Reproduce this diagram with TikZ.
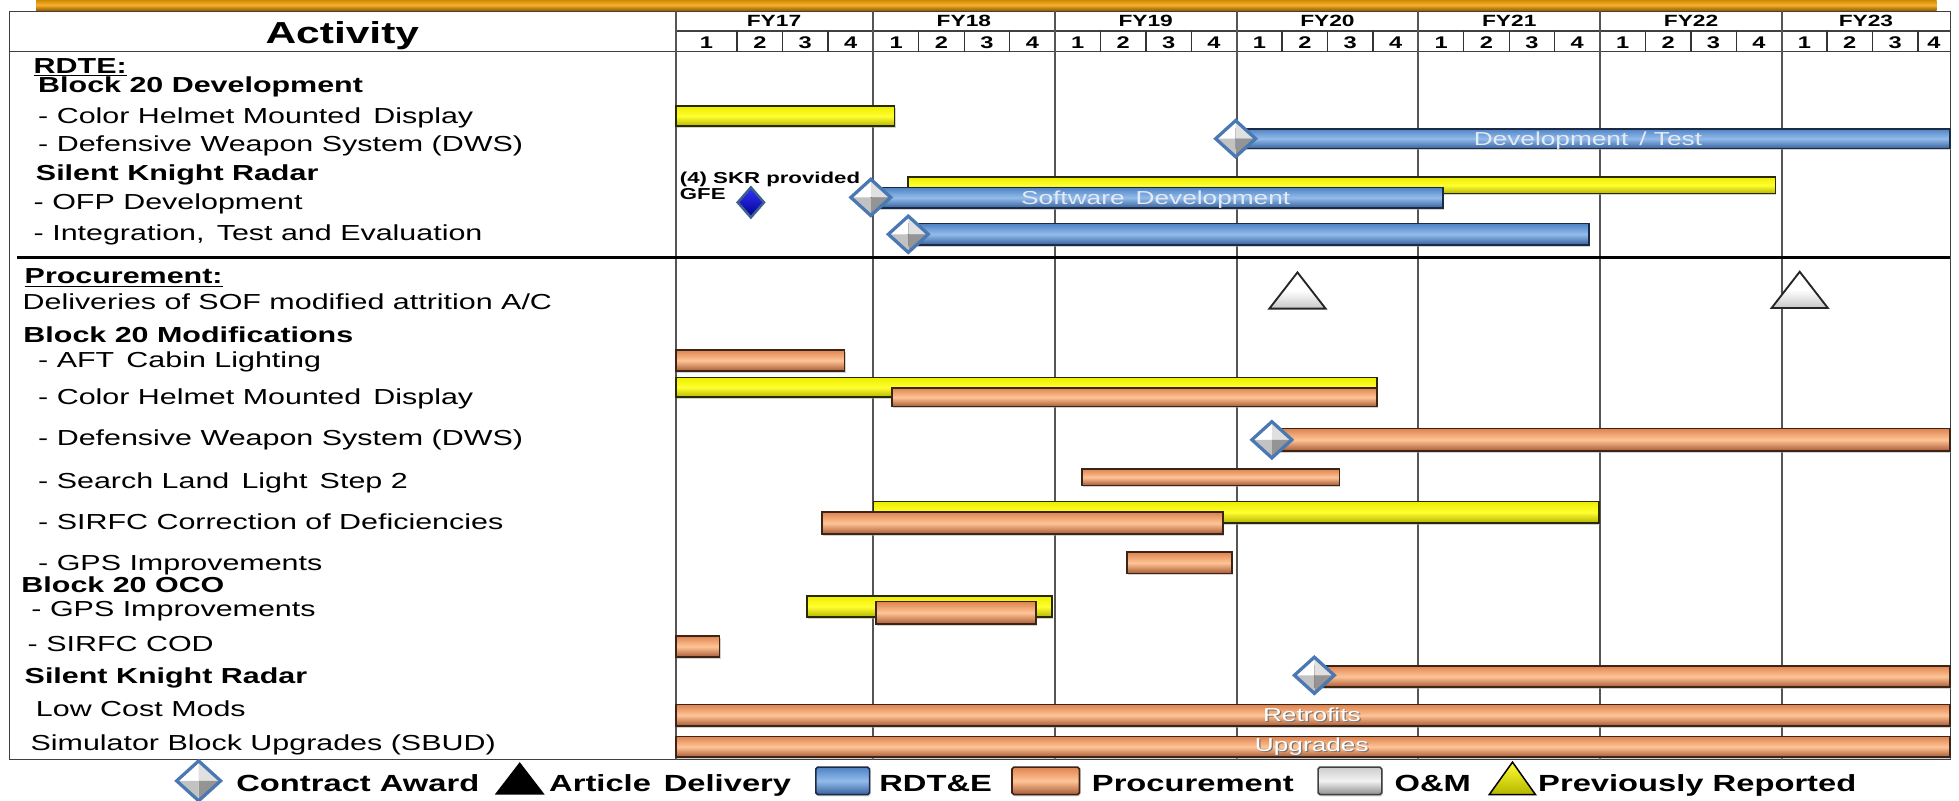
\documentclass[tikz,border=0pt]{standalone}
\usepackage{fontspec}
\setmainfont{Liberation Sans}[FakeStretch=1.4]
\usetikzlibrary{shadows}
\definecolor{orTop}{HTML}{DE8450}
\definecolor{orMid}{HTML}{FFC496}
\definecolor{orBot}{HTML}{A85A34}
\definecolor{orEdge}{HTML}{3C2416}
\definecolor{blTop}{HTML}{4F82C4}
\definecolor{blMid}{HTML}{93BCEB}
\definecolor{blBot}{HTML}{36609C}
\definecolor{blEdge}{HTML}{1B2B45}
\definecolor{yeTop}{HTML}{EDED00}
\definecolor{yeMid}{HTML}{FFFF30}
\definecolor{yeBot}{HTML}{B5B500}
\definecolor{yeEdge}{HTML}{2A2A00}
\definecolor{awEdge}{HTML}{4A78B2}
\definecolor{gridc}{HTML}{555555}
\definecolor{topA}{HTML}{D08C00}
\definecolor{topM}{HTML}{F6B030}
\definecolor{topB}{HTML}{A06400}
\definecolor{bartext}{HTML}{E4EAF4}
\newcommand{\gap}{\hspace{3pt}}
\tikzset{
  gbar/.style={line width=1.3pt, drop shadow={shadow xshift=0.8pt, shadow yshift=-1.4pt, fill=black!35}},
  orbar/.style={gbar, draw=orEdge, top color=orTop, bottom color=orBot, middle color=orMid},
  blbar/.style={gbar, draw=blEdge, top color=blTop, bottom color=blBot, middle color=blMid},
  yebar/.style={gbar, draw=yeEdge, top color=yeTop, bottom color=yeBot, middle color=yeMid},
  grbar/.style={gbar, draw=black!75, top color=black!20, bottom color=black!45, middle color=black!5},
  frame/.style={draw=black!75, line width=1.2pt},
  yline/.style={draw=gridc, line width=1.5pt},
  lab/.style={anchor=base west, inner sep=0pt, font=\fontsize{17.4}{20}\selectfont},
  labb/.style={anchor=base west, inner sep=0pt, font=\fontsize{17.4}{20}\selectfont\bfseries},
  hdr/.style={anchor=base, inner sep=0pt, font=\fontsize{13}{15}\selectfont\bfseries},
  qnum/.style={anchor=base, inner sep=0pt, font=\fontsize{13.5}{15}\selectfont\bfseries},
  bartxt/.style={anchor=base, inner sep=0pt, font=\fontsize{15}{17}\selectfont, text=bartext},
  legtxt/.style={anchor=base west, inner sep=0pt, font=\fontsize{18.7}{21}\selectfont\bfseries},
  award/.pic={
    \fill[white] (-16,0) -- (0,-14.5) -- (0,0) -- cycle;
    \fill[black!12] (0,-14.5) -- (16,0) -- (0,0) -- cycle;
    \fill[black!42] (16,0) -- (0,14.5) -- (0,0) -- cycle;
    \fill[black!24] (0,14.5) -- (-16,0) -- (0,0) -- cycle;
    \draw[awEdge, line width=2.6pt, line join=miter] (-16,0) -- (0,-14.5) -- (16,0) -- (0,14.5) -- cycle;
  },
  gfe/.pic={
    \path[top color=blue!80!white, bottom color=blue!55!black] (-10.5,0) -- (0,-12) -- (10.5,0) -- (0,12) -- cycle;
    \draw[color=awEdge!80!black, line width=2pt, line join=miter] (-10.5,0) -- (0,-12) -- (10.5,0) -- (0,12) -- cycle;
  },
  deliv/.pic={
    \draw[black!85, line width=1.5pt, line join=miter, top color=white, bottom color=black!22, middle color=white] (-22.5,14.5) -- (0,-14.5) -- (22.5,14.5) -- cycle;
  }
}
\begin{document}
\begin{tikzpicture}[x=1pt,y=-1pt]
\useasboundingbox (0,0) rectangle (1568,641);
% top band
\path[top color=topA, bottom color=topB, middle color=topM] (29,0) rectangle (1550,8);
% table frame and header lines
\draw[frame] (7.5,9) rectangle (1561,608);
\draw[frame] (7.5,41.4) -- (1561,41.4);
\draw[frame] (541,25) -- (1561,25);
\draw[yline] (541,9) -- (541,608);
\foreach \k in {1,...,27} {
  \pgfmathsetmacro{\xx}{590+36.35*(\k-1)}
  \draw[black!80, line width=1.1pt] (\xx,25) -- (\xx,41.4);
}
\foreach \k in {4,8,...,24} {
  \pgfmathsetmacro{\xx}{590+36.35*(\k-1)}
  \draw[yline] (\xx,9) -- (\xx,608);
}
% header texts
\node[anchor=base, inner sep=0pt, font=\fontsize{24.3}{26}\selectfont\bfseries] (act) at (274,34.7) {Activity};
\node[hdr] (fy17) at (619.5,21.3) {FY17};
\node[hdr] (fy18) at (771.5,21.3) {FY18};
\node[hdr] (fy19) at (917,21.3) {FY19};
\node[hdr] (fy20) at (1062.5,21.3) {FY20};
\node[hdr] (fy21) at (1208,21.3) {FY21};
\node[hdr] (fy22) at (1353.5,21.3) {FY22};
\node[hdr] (fy23) at (1493.5,21.3) {FY23};
\node[qnum] (q1) at (565.5,38.7) {1};
\foreach \i in {2,...,27} {
  \pgfmathsetmacro{\xx}{590+36.35*(\i-2)+18.175}
  \pgfmathtruncatemacro{\qq}{mod(\i-1,4)+1}
  \node[qnum] (q\i) at (\xx,38.7) {\qq};
}
\node[qnum] (q28) at (1548,38.7) {4};
% separator
\draw[black, line width=3pt] (14,206) -- (1561,206);
% left labels
\node[labb] (l1) at (26.8,59) {\underline{RDTE:}};
\node[labb] (l2) at (30.4,74) {Block 20 Development};
\node[lab] (l3) at (30.4,99) {- Color Helmet Mounted\gap{} Display};
\node[lab] (l4) at (30.4,121.5) {- Defensive Weapon System (DWS)};
\node[labb] (l5) at (28.6,144.5) {Silent Knight Radar};
\node[lab] (l6) at (26.8,168) {- OFP Development};
\node[lab] (l7) at (26.8,192.5) {- Integration,\gap{} Test and Evaluation};
\node[labb] (l8) at (19.6,227.3) {\underline{Procurement:}};
\node[lab] (l9) at (17.9,247.6) {Deliveries of SOF modified attrition A/C};
\node[labb] (l10) at (18.6,274) {Block 20 Modifications};
\node[lab] (l11) at (30.4,294) {- AFT\gap{} Cabin Lighting};
\node[lab] (l12) at (30.4,323.4) {- Color Helmet Mounted\gap{} Display};
\node[lab] (l13) at (30.4,356.2) {- Defensive Weapon System (DWS)};
\node[lab] (l14) at (30.4,390.9) {- Search Land\gap{} Light\gap{} Step 2};
\node[lab] (l15) at (30.4,423.7) {- SIRFC Correction of Deficiencies};
\node[lab] (l16) at (30.4,456.8) {- GPS Improvements};
\node[labb] (l17) at (17,474) {Block 20 OCO};
\node[lab] (l18) at (25,493.6) {- GPS Improvements};
\node[lab] (l19) at (22,521.6) {- SIRFC COD};
\node[labb] (l20) at (19.6,546.8) {Silent Knight Radar};
\node[lab] (l21) at (28.6,573.6) {Low Cost Mods};
\node[lab] (l22) at (24.3,600.9) {Simulator Block Upgrades (SBUD)};
% RDTE bars
\path[yebar] (541,85) rectangle (716,101);
\path[blbar] (989,103) rectangle (1561,119);
\path[yebar] (727,141.5) rectangle (1421,155);
\path[blbar] (697,150) rectangle (1155,166.5);
\path[blbar] (727,179) rectangle (1272,196);
\node[bartxt] (t1) at (1271,116.4) {Development\gap{} / Test};
\node[bartxt] (t2) at (925,163.4) {Software\gap{} Development};
\pic at (989,111) {award};
\pic at (697,158) {award};
\pic at (727,187.5) {award};
\pic at (601,162) {gfe};
\node[anchor=base west, inner sep=0pt, font=\fontsize{12.7}{14}\selectfont\bfseries] (n1) at (544,146.7) {(4) SKR provided};
\node[anchor=base west, inner sep=0pt, font=\fontsize{12.7}{14}\selectfont\bfseries] (n2) at (544,160) {GFE};
% procurement
\pic at (1038.5,232.5) {deliv};
\pic at (1440.5,232) {deliv};
\path[orbar] (541,280) rectangle (676,297);
\path[yebar] (541,302) rectangle (1102,318);
\path[orbar] (714,310.5) rectangle (1102,325.5);
\path[orbar] (1018,343) rectangle (1561,361);
\pic at (1018,352) {award};
\path[orbar] (866,375.5) rectangle (1072,388.5);
\path[yebar] (699,401.5) rectangle (1280,418.5);
\path[orbar] (658,410) rectangle (979,427.5);
\path[orbar] (902,442) rectangle (986,459);
\path[yebar] (646,477) rectangle (842,494);
\path[orbar] (701,481.5) rectangle (829,499.5);
\path[orbar] (541,509) rectangle (576,526);
\path[orbar] (1052,533) rectangle (1561,550);
\pic at (1052,540.5) {award};
\path[orbar] (541,564) rectangle (1561,581);
\path[orbar] (541,589.5) rectangle (1561,606);
\node[bartxt, text=black!55] at (1051,578.6) {Retrofits};
\node[bartxt, text=white] (t3) at (1050,577.6) {Retrofits};
\node[bartxt, text=black!55] at (1051,602.4) {Upgrades};
\node[bartxt, text=white] (t4) at (1050,601.4) {Upgrades};
% legend
\pic[scale=1.1] at (159,625) {award};
\node[legtxt] (g1) at (189,633.6) {Contract Award};
\fill[black] (396,636) -- (416,610) -- (436,636) -- cycle;
\node[legtxt] (g2) at (439.4,633.6) {Article\gap{} Delivery};
\path[blbar, rounded corners=1.5pt] (653,614) rectangle (696,636);
\node[legtxt] (g3) at (703.6,633.6) {RDT\&E};
\path[orbar, rounded corners=1.5pt] (810,614) rectangle (864,636);
\node[legtxt] (g4) at (873.8,633.6) {Procurement};
\path[grbar, rounded corners=1.5pt] (1055,614) rectangle (1106,636);
\node[legtxt] (g5) at (1116,633.6) {O\&M};
\draw[black, line width=1.2pt, line join=miter, top color=yeMid, bottom color=yeBot] (1192,636) -- (1210.6,610) -- (1229,636) -- cycle;
\node[legtxt] (g6) at (1231,633.6) {Previously Reported};
\end{tikzpicture}
\end{document}
